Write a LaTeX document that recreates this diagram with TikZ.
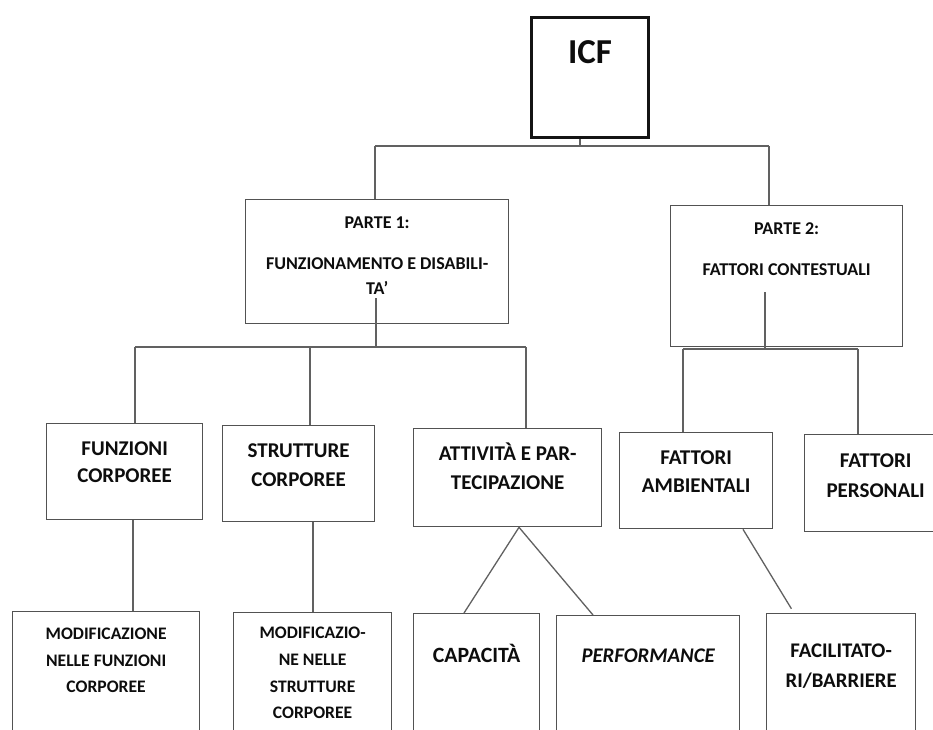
\documentclass[tikz,border=0pt]{standalone}
\usepackage{fontspec}
\setmainfont{Carlito}
\usetikzlibrary{calc}
\newcommand\bxt[6]{\begin{minipage}[c][#2pt][t]{#1pt}\centering\fontsize{#4pt}{#5pt}\selectfont\bfseries\vspace*{\dimexpr#3pt-0.7\baselineskip\relax}\strut#6\end{minipage}}
\tikzset{
  box/.style={draw=black!68, line width=1.3pt, inner sep=0pt, anchor=north west, text=black!95},
  bigbox/.style={box, draw=black!92, line width=3pt},
  conn/.style={draw=black!62, line width=1.3pt},
}
\begin{document}
\begin{tikzpicture}[x=1pt,y=-1pt]
\useasboundingbox (0,0) rectangle (933,729);
\fill[white] (0,0) rectangle (933,729);
\clip (0,0) rectangle (933,729);

% boxes
\node[bigbox] (icf) at (530,16) {\bxt{117}{120}{46}{35}{42}{ICF}};
\node[box] (p1) at (245,199) {\bxt{263}{124}{29}{18}{25}{PARTE 1:\\[16pt]FUNZIONAMENTO E DISABILI-\\TA’}};
\node[box] (p2) at (670,205) {\bxt{232}{141}{29}{18}{25}{PARTE 2:\\[16pt]FATTORI CONTESTUALI}};

\node[box] (f1) at (46,423) {\bxt{156}{96}{32}{21}{27}{FUNZIONI\\CORPOREE}};
\node[box] (s1) at (222,425) {\bxt{152}{96}{32}{21}{29}{STRUTTURE\\CORPOREE}};
\node[box] (a1) at (413,428) {\bxt{188}{98}{32}{21}{29}{ATTIVITÀ E PAR-\\TECIPAZIONE}};
\node[box] (fa) at (619,432) {\bxt{153}{96}{32}{21}{28}{FATTORI\\AMBIENTALI}};
\node[box] (fp) at (804,434) {\bxt{142}{97}{33}{21}{30}{FATTORI\\PERSONALI}};

\node[box] (m1) at (12,611) {\bxt{187}{140}{28}{17.6}{26.5}{MODIFICAZIONE\\NELLE FUNZIONI\\CORPOREE}};
\node[box] (m2) at (233,612) {\bxt{158}{140}{26}{17.6}{26.7}{MODIFICAZIO-\\NE NELLE\\STRUTTURE\\CORPOREE}};
\node[box] (cap) at (413,613) {\bxt{126}{140}{49}{21.8}{28}{CAPACITÀ}};
\node[box] (perf) at (556,615) {\bxt{183}{140}{47}{20.8}{28}{\itshape PERFORMANCE}};
\node[box] (fac) at (766,613) {\bxt{149}{140}{44}{20.8}{30}{FACILITATO-\\RI/BARRIERE}};

% level 1 connectors
\coordinate (j1) at (580,146);
\coordinate (j1L) at (375,146);
\coordinate (j1R) at (769,146);
\draw[conn] (icf.south -| j1) -- (j1);
\draw[conn] (j1L) -- (j1R);
\draw[conn] (j1L) -- (p1.north -| j1L);
\draw[conn] (j1R) -- (p2.north -| j1R);

% part 1 connectors
\coordinate (k0) at (376,298);
\coordinate (k) at (376,347);
\coordinate (kL) at (135,347);
\coordinate (kM) at (310,347);
\coordinate (kR) at (526,347);
\draw[conn] (k0) -- (k);
\draw[conn] (kL) -- (kR);
\draw[conn] (kL) -- (f1.north -| kL);
\draw[conn] (kM) -- (s1.north -| kM);
\draw[conn] (kR) -- (a1.north -| kR);

% part 2 connectors
\coordinate (q0) at (765,292);
\coordinate (q) at (765,349);
\coordinate (qL) at (683,349);
\coordinate (qR) at (858,349);
\draw[conn] (q0) -- (q);
\draw[conn] (qL) -- (qR);
\draw[conn] (qL) -- (fa.north -| qL);
\draw[conn] (qR) -- (fp.north -| qR);

% bottom connectors
\coordinate (u1) at (133,0);
\coordinate (u2) at (313,0);
\draw[conn] (f1.south -| u1) -- (m1.north -| u1);
\draw[conn] (s1.south -| u2) -- (m2.north -| u2);
\coordinate (ax) at (519,0);
\coordinate (cx) at (464,0);
\coordinate (px) at (593,0);
\draw[conn] (cap.north -| cx) -- (a1.south -| ax) -- (perf.north -| px);
\coordinate (fx) at (743,0);
\coordinate (gx) at (794,0);
\draw[conn, shorten >=5pt] (fa.south -| fx) -- (fac.north -| gx);
\end{tikzpicture}
\end{document}
